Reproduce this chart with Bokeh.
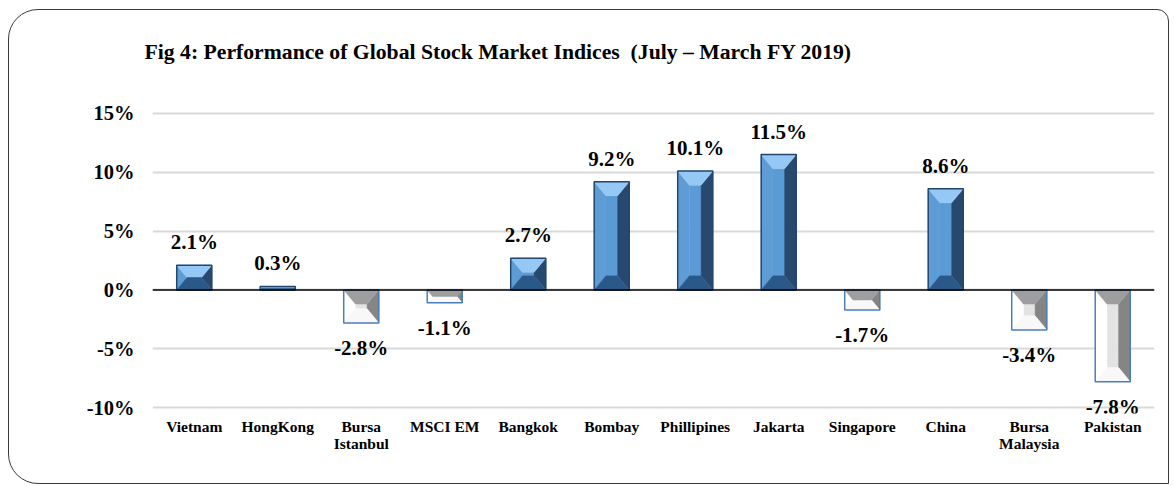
from bokeh.plotting import figure
from bokeh.models import ColumnDataSource, Range1d, Span, Title, FixedTicker, PrintfTickFormatter
from bokeh.core.properties import value
from bokeh.embed import file_html
from bokeh.resources import INLINE

markets = ["Vietnam", "HongKong", "Bursa Istanbul", "MSCI EM", "Bangkok", "Bombay",
           "Phillipines", "Jakarta", "Singapore", "China", "Bursa Malaysia", "Pakistan"]
tick_labels = ["Vietnam", "HongKong", "Bursa\nIstanbul", "MSCI EM", "Bangkok", "Bombay",
               "Phillipines", "Jakarta", "Singapore", "China", "Bursa\nMalaysia", "Pakistan"]
returns = [2.1, 0.3, -2.8, -1.1, 2.7, 9.2, 10.1, 11.5, -1.7, 8.6, -3.4, -7.8]
y_ticks = [-10, -5, 0, 5, 10, 15]
title_text = "Fig 4: Performance of Global Stock Market Indices\u00a0\u00a0(July \u2013 March FY 2019)"

FONT = "Liberation Serif"
HALF_W = 0.21    # half bar width (category units)
BEV_X = 0.14     # bevel inset, category units
BEV_Y = 1.2      # bevel inset, percent units

idx = list(range(len(markets)))

pos_cols = {"top": "#95C8F4", "bot": "#2A5888", "left": "#5E9CD6", "right": "#27496F", "mid": "#5B9BD5"}
neg_cols = {"top": "#F8F8F8", "bot": "#9E9E9E", "left": "#FFFFFF", "right": "#858585", "mid": "#E3E3E3"}
face_x, face_y, face_c = [], [], []
for i, v in zip(idx, returns):
    xl, xr = i - HALF_W, i + HALF_W
    s = 1 if v >= 0 else -1
    iy = s * min(BEV_Y, abs(v) / 2.0)
    ix = BEV_X * min(1.0, abs(v) / 2.0 / BEV_Y)
    cols = pos_cols if v >= 0 else neg_cols
    quads = {
        "mid": ([xl + ix, xr - ix, xr - ix, xl + ix], [iy, iy, v - iy, v - iy]),
        "left": ([xl, xl, xl + ix, xl + ix], [0, v, v - iy, iy]),
        "right": ([xr, xr, xr - ix, xr - ix], [0, v, v - iy, iy]),
        "top": ([xl, xr, xr - ix, xl + ix], [v, v, v - iy, v - iy]),
        "bot": ([xl, xr, xr - ix, xl + ix], [0, 0, iy, iy]),
    }
    for k, (xs, ys) in quads.items():
        face_x.append(xs)
        face_y.append(ys)
        face_c.append(cols[k])

faces_src = ColumnDataSource(dict(xs=face_x, ys=face_y, c=face_c))

src = ColumnDataSource(dict(
    i=idx, v=returns,
    line=["#24476F" if v >= 0 else "#4A7EBB" for v in returns],
    lbl=[f"{v:.1f}%" for v in returns],
    lbl_off=[-23 if v >= 0 else 25 for v in returns],
))

p = figure(x_range=Range1d(-0.5, len(markets) - 0.5), y_range=Range1d(-10.5, 15.5),
           frame_width=1002, frame_height=306,
           min_border_left=143, min_border_right=14, min_border_top=97, min_border_bottom=70,
           output_backend="svg", toolbar_location=None)
p.styles = {"border": "1.5px solid #3a3a3a", "border-radius": "30px 12px 0px 30px",
            "margin-left": "8px", "margin-top": "9px"}
p.background_fill_color = None
p.border_fill_color = None

# blank spacer panel next to the frame, then the real title above it
p.add_layout(Title(text="\u00a0", text_font_size="10px", standoff=8), "above")
p.add_layout(Title(text=title_text, align="left", offset=-8, standoff=46,
                   text_font=FONT, text_font_style="bold", text_font_size="21.7px",
                   text_color="#000000"), "above")

p.outline_line_color = None
p.xgrid.grid_line_color = None
p.ygrid.grid_line_color = "#D9D9D9"
p.ygrid.grid_line_width = 1.8

p.yaxis.ticker = FixedTicker(ticks=y_ticks)
p.yaxis.formatter = PrintfTickFormatter(format="%d%%")
p.yaxis.axis_line_color = None
p.yaxis.major_tick_line_color = None
p.yaxis.major_tick_out = 0
p.yaxis.minor_tick_line_color = None
p.yaxis.major_label_standoff = 18
p.yaxis.major_label_text_font = FONT
p.yaxis.major_label_text_font_style = "bold"
p.yaxis.major_label_text_font_size = "20.5px"
p.yaxis.major_label_text_color = "#000000"

p.xaxis.ticker = FixedTicker(ticks=idx)
p.xaxis.major_label_overrides = {i: t for i, t in zip(idx, tick_labels)}
p.xaxis.axis_line_color = None
p.xaxis.major_tick_line_color = None
p.xaxis.major_tick_out = 0
p.xaxis.minor_tick_line_color = None
p.xaxis.major_label_standoff = 4
p.xaxis.major_label_text_font = FONT
p.xaxis.major_label_text_font_style = "bold"
p.xaxis.major_label_text_font_size = "15.5px"
p.xaxis.major_label_text_color = "#000000"
p.xaxis.major_label_text_line_height = 1.05

# bevelled bars
p.patches(xs="xs", ys="ys", fill_color="c", line_color="c", line_width=0.5, source=faces_src)
p.vbar(x="i", top="v", bottom=0, width=2 * HALF_W, source=src,
       fill_color=None, line_color="line", line_width=1.5)

p.add_layout(Span(location=0, dimension="width", line_color="#000000", line_width=1.5))

p.text(x="i", y="v", text="lbl", y_offset="lbl_off", source=src,
       text_font=value(FONT), text_font_style="bold", text_font_size="21px",
       text_align="center", text_baseline="middle", text_color="#000000")

open("out.html", "w").write(file_html(p, INLINE))
